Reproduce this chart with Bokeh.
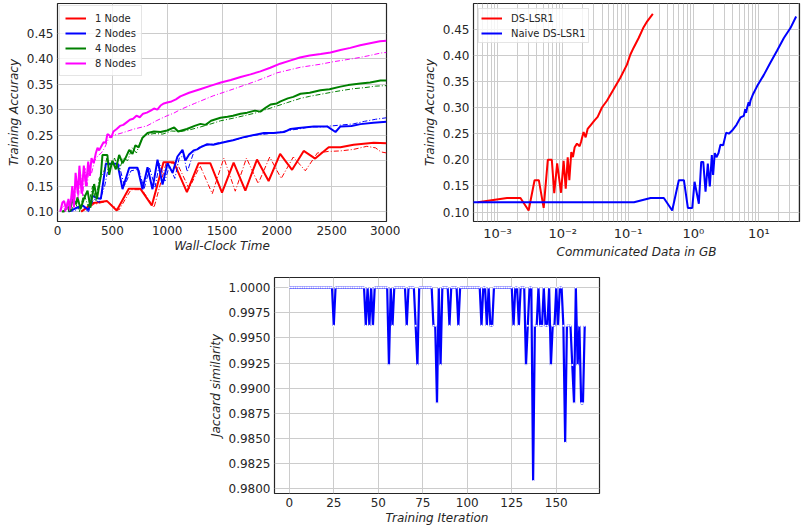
from bokeh.plotting import figure
from bokeh.layouts import column, row, Spacer
from bokeh.models import FixedTicker, PrintfTickFormatter, CustomJSTickFormatter, Range1d
from bokeh.embed import file_html
from bokeh.resources import INLINE

# ---------------- data: wall-clock plot ----------------
node1_time = [216, 300, 330, 420, 450, 540, 650, 755, 860, 967, 1060, 1180, 1287, 1393, 1500, 1606, 1713, 1819, 1925, 2030, 2139, 2245, 2350, 2473, 2580, 2700, 2884, 3000]
node1_acc = [0.100, 0.113, 0.117, 0.120, 0.121, 0.102, 0.145, 0.145, 0.112, 0.197, 0.197, 0.138, 0.195, 0.195, 0.137, 0.196, 0.141, 0.202, 0.160, 0.213, 0.182, 0.219, 0.204, 0.226, 0.226, 0.231, 0.235, 0.234]
node1_time_b = [216, 330, 450, 560, 670, 770, 880, 990, 1090, 1200, 1300, 1411, 1517, 1621, 1723, 1830, 1935, 2040, 2150, 2260, 2370, 2470, 2580, 2700, 2820, 2900, 2950, 3000]
node1_acc_b = [0.100, 0.114, 0.120, 0.103, 0.143, 0.143, 0.108, 0.195, 0.195, 0.145, 0.190, 0.135, 0.205, 0.140, 0.205, 0.155, 0.207, 0.165, 0.207, 0.180, 0.215, 0.218, 0.219, 0.222, 0.228, 0.225, 0.217, 0.215]

node2_time = [100, 150, 180, 230, 283, 319, 365, 395, 441, 547, 593, 654, 730, 775, 821, 866, 912, 958, 1003, 1049, 1094, 1140, 1167, 1200, 1241, 1274, 1302, 1365, 1420, 1517, 1600, 1699, 1790, 1882, 1970, 2065, 2125, 2200, 2337, 2459, 2535, 2580, 2680, 2763, 2880, 3000]
node2_acc = [0.100, 0.105, 0.108, 0.112, 0.103, 0.131, 0.126, 0.125, 0.194, 0.194, 0.144, 0.186, 0.186, 0.144, 0.187, 0.144, 0.202, 0.153, 0.195, 0.176, 0.208, 0.221, 0.200, 0.212, 0.220, 0.222, 0.226, 0.232, 0.231, 0.236, 0.240, 0.246, 0.250, 0.254, 0.254, 0.256, 0.262, 0.264, 0.267, 0.267, 0.256, 0.267, 0.268, 0.2715, 0.274, 0.276]
node2_time_b = [100, 160, 220, 283, 330, 380, 430, 470, 560, 610, 670, 740, 790, 840, 890, 930, 980, 1020, 1070, 1110, 1150, 1183, 1240, 1300, 1400, 1500, 1600, 1700, 1800, 1900, 2000, 2100, 2200, 2300, 2400, 2500, 2600, 2700, 2800, 2900, 3000]
node2_acc_b = [0.100, 0.102, 0.110, 0.100, 0.125, 0.118, 0.150, 0.193, 0.193, 0.150, 0.180, 0.183, 0.145, 0.185, 0.148, 0.195, 0.160, 0.190, 0.165, 0.205, 0.210, 0.178, 0.215, 0.228, 0.232, 0.236, 0.240, 0.245, 0.250, 0.252, 0.255, 0.259, 0.262, 0.266, 0.266, 0.268, 0.270, 0.272, 0.277, 0.281, 0.284]

node4_time = [40, 60, 90, 110, 140, 170, 182, 210, 240, 274, 300, 334, 360, 395, 410, 455, 471, 500, 532, 562, 593, 620, 654, 684, 710, 740, 775, 821, 880, 940, 1000, 1064, 1100, 1180, 1250, 1304, 1350, 1400, 1486, 1550, 1600, 1669, 1730, 1800, 1850, 1900, 1943, 2000, 2034, 2100, 2150, 2216, 2300, 2398, 2480, 2580, 2650, 2763, 2850, 2945, 3000]
node4_acc = [0.100, 0.100, 0.112, 0.100, 0.125, 0.115, 0.128, 0.105, 0.125, 0.141, 0.108, 0.154, 0.125, 0.170, 0.211, 0.211, 0.172, 0.200, 0.183, 0.211, 0.195, 0.205, 0.221, 0.213, 0.230, 0.226, 0.245, 0.254, 0.257, 0.256, 0.259, 0.265, 0.257, 0.262, 0.268, 0.272, 0.270, 0.278, 0.284, 0.286, 0.288, 0.292, 0.294, 0.298, 0.296, 0.304, 0.310, 0.312, 0.316, 0.322, 0.325, 0.331, 0.333, 0.338, 0.340, 0.345, 0.348, 0.351, 0.353, 0.357, 0.357]
node4_time_b = [40, 80, 120, 160, 200, 240, 280, 320, 350, 380, 420, 450, 490, 520, 560, 600, 640, 680, 720, 760, 800, 880, 960, 1040, 1122, 1200, 1304, 1400, 1486, 1600, 1700, 1800, 1900, 2000, 2100, 2216, 2300, 2400, 2500, 2580, 2700, 2800, 2900, 3000]
node4_acc_b = [0.100, 0.105, 0.100, 0.118, 0.100, 0.135, 0.110, 0.150, 0.120, 0.165, 0.175, 0.205, 0.190, 0.205, 0.180, 0.205, 0.200, 0.225, 0.215, 0.240, 0.250, 0.253, 0.252, 0.258, 0.257, 0.260, 0.266, 0.272, 0.278, 0.283, 0.288, 0.293, 0.300, 0.307, 0.314, 0.322, 0.326, 0.330, 0.334, 0.337, 0.341, 0.343, 0.346, 0.347]

node8_time = [25, 45, 60, 80, 100, 115, 135, 150, 165, 185, 200, 220, 240, 260, 280, 295, 310, 330, 350, 365, 380, 400, 420, 440, 455, 470, 490, 510, 540, 570, 600, 630, 660, 690, 720, 750, 780, 815, 850, 880, 910, 940, 970, 1000, 1040, 1080, 1120, 1200, 1300, 1400, 1490, 1580, 1670, 1760, 1850, 1940, 2030, 2120, 2210, 2300, 2400, 2490, 2580, 2670, 2760, 2850, 2940, 3000]
node8_acc = [0.100, 0.118, 0.121, 0.103, 0.125, 0.105, 0.150, 0.108, 0.176, 0.135, 0.190, 0.135, 0.190, 0.150, 0.198, 0.170, 0.205, 0.195, 0.215, 0.225, 0.220, 0.228, 0.236, 0.235, 0.252, 0.250, 0.245, 0.257, 0.262, 0.268, 0.270, 0.275, 0.280, 0.282, 0.288, 0.285, 0.292, 0.294, 0.298, 0.302, 0.300, 0.308, 0.312, 0.314, 0.316, 0.320, 0.326, 0.333, 0.340, 0.347, 0.353, 0.358, 0.364, 0.369, 0.375, 0.382, 0.390, 0.396, 0.402, 0.406, 0.409, 0.412, 0.417, 0.421, 0.426, 0.430, 0.434, 0.435]
node8_time_b = [25, 50, 70, 90, 110, 130, 150, 170, 190, 210, 230, 250, 270, 290, 310, 340, 370, 400, 430, 470, 520, 600, 700, 815, 900, 1000, 1060, 1120, 1250, 1420, 1600, 1800, 1910, 2000, 2215, 2400, 2519, 2700, 2823, 2950, 3000]
node8_acc_b = [0.100, 0.112, 0.100, 0.120, 0.102, 0.135, 0.110, 0.160, 0.125, 0.175, 0.130, 0.185, 0.150, 0.190, 0.175, 0.200, 0.210, 0.215, 0.225, 0.245, 0.250, 0.255, 0.262, 0.268, 0.278, 0.288, 0.293, 0.300, 0.312, 0.327, 0.340, 0.355, 0.364, 0.372, 0.383, 0.389, 0.394, 0.400, 0.405, 0.411, 0.412]

node_labels = ["1 Node", "2 Nodes", "4 Nodes", "8 Nodes"]
node_colors = ["#ff0000", "#0000ff", "#008000", "#ff00ff"]

# ---------------- data: communicated data plot ----------------
ds_gb = [5.0e-4, 1.40e-3, 2.25e-3, 3.0e-3, 3.7e-3, 4.3e-3, 5.1e-3, 5.9e-3, 6.8e-3, 7.4e-3, 8.2e-3, 9.4e-3, 1.03e-2, 1.11e-2, 1.19e-2, 1.26e-2, 1.35e-2, 1.43e-2, 1.52e-2, 1.65e-2, 1.81e-2, 1.90e-2, 2.08e-2, 2.24e-2, 2.40e-2, 2.70e-2, 3.04e-2, 3.42e-2, 3.98e-2, 4.74e-2, 6.0e-2, 7.6e-2, 9.6e-2, 0.108, 0.121, 0.145, 0.17, 0.196, 0.239]
ds_acc = [0.119, 0.127, 0.127, 0.103, 0.161, 0.161, 0.108, 0.200, 0.200, 0.136, 0.193, 0.137, 0.198, 0.145, 0.205, 0.161, 0.215, 0.205, 0.224, 0.231, 0.226, 0.234, 0.253, 0.243, 0.259, 0.267, 0.275, 0.282, 0.300, 0.313, 0.335, 0.357, 0.382, 0.401, 0.414, 0.433, 0.452, 0.465, 0.479]
naive_gb = [4.0e-4, 0.123, 0.221, 0.352, 0.473, 0.597, 0.714, 0.822, 0.959, 1.04, 1.21, 1.315, 1.413, 1.531, 1.66, 1.78, 1.91, 2.00, 2.12, 2.25, 2.42, 2.59, 2.85, 3.17, 3.48, 3.91, 4.56, 5.25, 5.90, 6.2, 6.4, 6.64, 7.0, 7.2, 7.46, 8.20, 9.44, 11.9, 15.1, 19.1, 24.2, 30.5, 37.3]
naive_acc = [0.119, 0.119, 0.127, 0.127, 0.103, 0.161, 0.161, 0.108, 0.108, 0.158, 0.116, 0.196, 0.196, 0.139, 0.193, 0.149, 0.209, 0.171, 0.213, 0.205, 0.213, 0.229, 0.228, 0.252, 0.250, 0.256, 0.267, 0.281, 0.284, 0.297, 0.290, 0.300, 0.310, 0.303, 0.313, 0.326, 0.341, 0.362, 0.386, 0.409, 0.433, 0.452, 0.474]

# ---------------- data: Jaccard similarity plot ----------------
jaccard = [
    1.0, 1.0, 1.0, 1.0, 1.0, 1.0, 1.0, 1.0, 1.0, 1.0,
    1.0, 1.0, 1.0, 1.0, 1.0, 1.0, 1.0, 1.0, 1.0, 1.0,
    1.0, 1.0, 1.0, 1.0, 1.0, 0.9962, 1.0, 1.0, 1.0, 1.0,
    1.0, 1.0, 1.0, 1.0, 1.0, 1.0, 1.0, 1.0, 1.0, 1.0,
    1.0, 1.0, 1.0, 0.9962, 1.0, 0.9962, 1.0, 0.9962, 1.0, 1.0,
    1.0, 1.0, 1.0, 1.0, 1.0, 1.0, 0.9923, 1.0, 0.9962, 1.0,
    1.0, 1.0, 1.0, 1.0, 1.0, 1.0, 0.9962, 1.0, 1.0, 1.0,
    1.0, 0.9962, 0.9923, 1.0, 1.0, 1.0, 1.0, 1.0, 1.0, 1.0,
    1.0, 0.9962, 0.9962, 0.9885, 1.0, 0.9923, 1.0, 1.0, 1.0, 1.0,
    0.9962, 1.0, 1.0, 1.0, 1.0, 0.9962, 1.0, 1.0, 1.0, 1.0,
    1.0, 1.0, 1.0, 1.0, 1.0, 1.0, 1.0, 1.0, 0.9962, 1.0,
    1.0, 0.9962, 1.0, 0.9962, 0.9962, 1.0, 1.0, 1.0, 1.0, 1.0,
    1.0, 1.0, 1.0, 1.0, 1.0, 1.0, 0.9962, 1.0, 1.0, 0.9962,
    1.0, 1.0, 1.0, 0.9923, 0.9962, 1.0, 1.0, 0.9808, 0.9962, 0.9962,
    1.0, 0.9962, 0.9962, 1.0, 0.9962, 0.9962, 1.0, 0.9923, 0.9962, 0.9962,
    1.0, 0.9962, 1.0, 1.0, 0.9962, 0.9846, 0.9962, 0.9962, 0.9962, 0.9923,
    0.9885, 1.0, 0.9923, 0.9962, 0.9885, 0.9885, 0.9962,
]
iterations = list(range(len(jaccard)))

# tick values
time_ticks = [0, 500, 1000, 1500, 2000, 2500, 3000]
acc_ticks = [0.10, 0.15, 0.20, 0.25, 0.30, 0.35, 0.40, 0.45]
gb_ticks = [1e-3, 1e-2, 1e-1, 1e0, 1e1]
iter_ticks = [0, 25, 50, 75, 100, 125, 150]
jac_ticks = [0.98, 0.9825, 0.985, 0.9875, 0.99, 0.9925, 0.995, 0.9975, 1.0]

TEXT = "#262626"
GRID = "#cccccc"
FONT = "DejaVu Sans"


def style(p):
    p.background_fill_color = "white"
    p.border_fill_color = "white"
    p.outline_line_color = TEXT
    p.outline_line_width = 1.2
    for ax in p.axis:
        ax.axis_line_color = None
        ax.major_tick_line_color = None
        ax.minor_tick_line_color = None
        ax.major_tick_in = 0
        ax.major_tick_out = 0
        ax.minor_tick_in = 0
        ax.minor_tick_out = 0
        ax.major_label_text_font = FONT
        ax.major_label_text_font_size = "12px"
        ax.major_label_text_color = TEXT
        ax.axis_label_text_font = FONT
        ax.axis_label_text_font_size = "12px"
        ax.axis_label_text_font_style = "italic"
        ax.axis_label_text_color = TEXT
        ax.major_label_standoff = 4
    p.xaxis.axis_label_standoff = 1
    p.yaxis.axis_label_standoff = 3
    p.grid.grid_line_color = GRID
    p.grid.grid_line_width = 1.0


def style_legend(p, margin, padding):
    lg = p.legend[0]
    lg.location = "top_left"
    lg.margin = margin
    lg.padding = padding
    lg.spacing = 1
    lg.glyph_width = 21
    lg.glyph_height = 14
    lg.label_height = 14
    lg.label_standoff = 9
    lg.label_text_font = FONT
    lg.label_text_font_size = "10px"
    lg.label_text_color = TEXT
    lg.border_line_color = GRID
    lg.border_line_width = 1
    lg.background_fill_color = "white"
    lg.background_fill_alpha = 0.8


# ---------------- figure 1 ----------------
p1 = figure(width=400, height=261, output_backend="svg", toolbar_location=None,
            x_range=Range1d(0, 3000), y_range=Range1d(0.0806, 0.508),
            min_border_left=57, min_border_right=14, min_border_top=3, min_border_bottom=30)
p1.xaxis.axis_label = "Wall-Clock Time"
p1.yaxis.axis_label = "Training Accuracy"
p1.xaxis.ticker = FixedTicker(ticks=time_ticks)
p1.yaxis.ticker = FixedTicker(ticks=acc_ticks)
p1.yaxis.formatter = PrintfTickFormatter(format="%.2f")
style(p1)

series_solid = [(node1_time, node1_acc), (node2_time, node2_acc), (node4_time, node4_acc), (node8_time, node8_acc)]
series_dash = [(node1_time_b, node1_acc_b), (node2_time_b, node2_acc_b), (node4_time_b, node4_acc_b), (node8_time_b, node8_acc_b)]
for (tx, ty), (bx, by), col, lab in zip(series_solid, series_dash, node_colors, node_labels):
    p1.line(bx, by, line_color=col, line_width=1.0, line_dash="5 2 1 2")
    p1.line(tx, ty, line_color=col, line_width=2.0, legend_label=lab)
style_legend(p1, margin=2, padding=5)

# ---------------- figure 2 ----------------
sup_js = """
const sup = {"-": "\u207b", "0": "\u2070", "1": "\u00b9", "2": "\u00b2", "3": "\u00b3",
             "4": "\u2074", "5": "\u2075", "6": "\u2076", "7": "\u2077", "8": "\u2078", "9": "\u2079"};
const e = Math.round(Math.log10(tick));
return "10" + String(e).split("").map(c => sup[c]).join("");
"""
minor = [m * d for d in [1e-4, 1e-3, 1e-2, 1e-1, 1e0, 1e1] for m in range(2, 10)]
p2 = figure(width=401, height=261, output_backend="svg", toolbar_location=None,
            x_axis_type="log", x_range=Range1d(4.3e-4, 42), y_range=Range1d(0.082, 0.499),
            min_border_left=73, min_border_right=2, min_border_top=3, min_border_bottom=30)
p2.xaxis.axis_label = "Communicated Data in GB"
p2.yaxis.axis_label = "Training Accuracy"
p2.xaxis.ticker = FixedTicker(ticks=gb_ticks, minor_ticks=minor)
p2.xaxis.formatter = CustomJSTickFormatter(code=sup_js)
p2.yaxis.ticker = FixedTicker(ticks=acc_ticks)
p2.yaxis.formatter = PrintfTickFormatter(format="%.2f")
style(p2)
p2.xaxis.major_label_text_font_size = "13px"
p2.xgrid.minor_grid_line_color = GRID
p2.xgrid.minor_grid_line_width = 1.0
p2.line(ds_gb, ds_acc, line_color="#ff0000", line_width=2.0, legend_label="DS-LSR1")
p2.line(naive_gb, naive_acc, line_color="#0000ff", line_width=2.0, legend_label="Naive DS-LSR1")
style_legend(p2, margin=5, padding=2)

# ---------------- figure 3 ----------------
p3 = figure(width=401, height=266, output_backend="svg", toolbar_location=None,
            x_range=Range1d(-8.3, 174.3), y_range=Range1d(0.97955, 1.001),
            min_border_left=74, min_border_right=2, min_border_top=16, min_border_bottom=30)
p3.xaxis.axis_label = "Training Iteration"
p3.yaxis.axis_label = "Jaccard similarity"
p3.xaxis.ticker = FixedTicker(ticks=iter_ticks)
p3.yaxis.ticker = FixedTicker(ticks=jac_ticks)
p3.yaxis.formatter = PrintfTickFormatter(format="%.4f")
style(p3)
p3.line(iterations, jaccard, line_color="#0000ff", line_width=2.2)
p3.scatter(iterations, jaccard, size=2, fill_color="white", line_color=None)

layout = column(row(p1, p2), row(Spacer(width=200, height=266), p3))
open("out.html", "w").write(file_html(layout, INLINE))
